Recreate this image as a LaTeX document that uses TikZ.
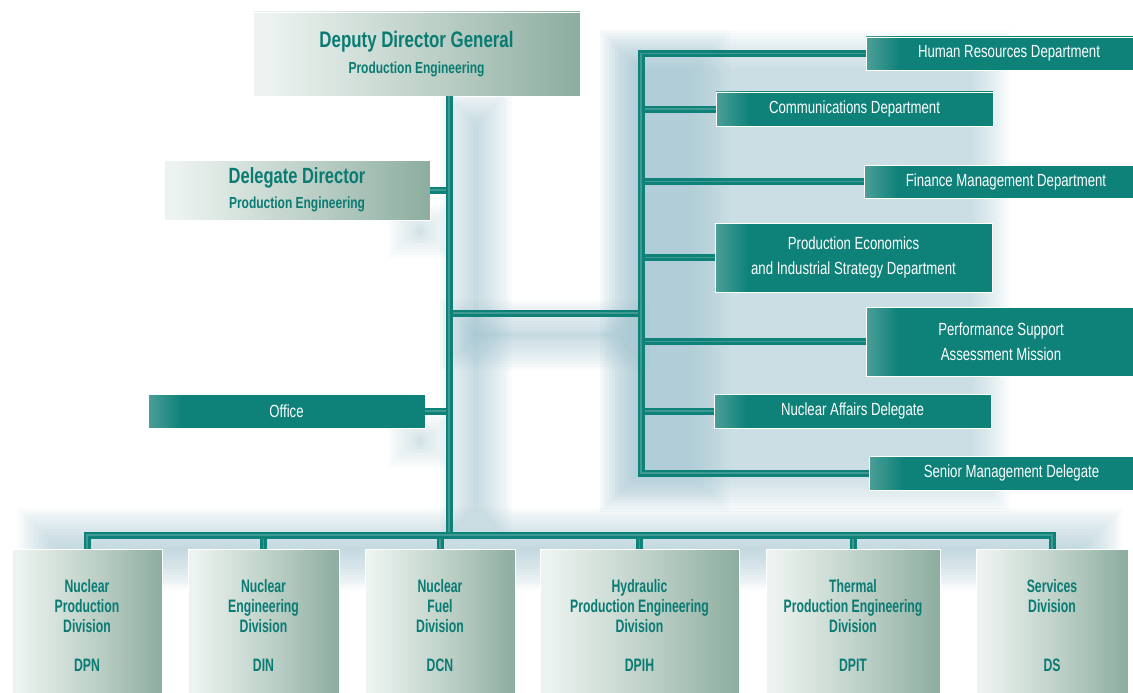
\documentclass[tikz,border=0pt]{standalone}
\usepackage{fontspec}
\usepackage{xcolor}
\usepackage{tikz}
\usetikzlibrary{positioning}
\setmainfont{Liberation Sans}[FakeStretch=0.75]
\newfontfamily\narrowfont{Liberation Sans}[FakeStretch=0.68]
\definecolor{tealdark}{HTML}{0E8179}
\definecolor{teallight}{HTML}{3E9A92}
\definecolor{tealtext}{HTML}{0A7B73}
\definecolor{sagelight}{HTML}{EDF3F0}
\definecolor{sagedark}{HTML}{8CAD9F}
\definecolor{deptleft}{HTML}{4C9F98}
\definecolor{haze}{HTML}{8DB6C4}
\pgfdeclarehorizontalshading{deptshade}{100bp}{color(0bp)=(deptleft); color(25bp)=(deptleft); color(31bp)=(tealdark); color(100bp)=(tealdark)}
\pgfdeclarehorizontalshading{headshade}{100bp}{color(0bp)=(sagelight); color(27bp)=(sagelight); color(55bp)=(sagedark!55!sagelight); color(75bp)=(sagedark); color(100bp)=(sagedark)}

% soft blurred shadow block
\newcommand\hazebox[5]{%
  \foreach \i in {0,...,13}{
    \fill[haze,opacity=#5] (#1+3*\i,#2+3*\i) rectangle (#3-3*\i,#4-3*\i);
  }}

\tikzset{
  headbox/.style={rectangle,inner sep=0pt,shading=headshade,draw=white,line width=0.8pt,
    text=tealtext,align=center},
  deptbox/.style={rectangle,inner sep=0pt,shading=deptshade,draw=white,line width=0.6pt,
    text=white,align=center,font=\fontsize{17.6}{25}\selectfont},
  divbox/.style={headbox,anchor=north,minimum height=144pt},
  divtext/.style={anchor=north,inner sep=0pt,text=tealtext,align=center,
    font=\narrowfont\bfseries\fontsize{18}{20}\selectfont},
  link/.style={draw=tealdark,line width=2.6pt,double=teallight,double distance=1.8pt},
}

\begin{document}
\begin{tikzpicture}[x=1pt,y=-1pt]
  \useasboundingbox (0,0) rectangle (1133,693);
  % shadows
  \hazebox{600}{30}{1010}{512}{0.045}
  \hazebox{600}{30}{730}{512}{0.04}
  \hazebox{440}{88}{512}{542}{0.05}
  \hazebox{440}{300}{650}{370}{0.05}
  \hazebox{388}{204}{452}{258}{0.04}
  \hazebox{388}{414}{452}{468}{0.04}
  \hazebox{18}{508}{1122}{590}{0.05}

  % head boxes
  \node[headbox,minimum width=327pt,minimum height=84pt] (ddg) at (416.5,54)
    {\bfseries\fontsize{22.5}{26}\selectfont Deputy Director General\\[9pt]
     \bfseries\fontsize{16}{18}\selectfont Production Engineering};
  \node[headbox,minimum width=266pt,minimum height=60pt] (dd) at (297,190)
    {\bfseries\fontsize{22}{26}\selectfont Delegate Director\\[8pt]
     \bfseries\fontsize{16}{18}\selectfont Production Engineering};
  \node[deptbox,minimum width=277pt,minimum height=34pt] (office) at (286.5,411) {Office};

  % departments on the right
  \node[deptbox,minimum width=286pt,minimum height=33pt] (hr)   at (1009,53.5) {Human Resources Department};
  \node[deptbox,minimum width=277pt,minimum height=34pt] (comm) at (854.5,109) {Communications Department};
  \node[deptbox,minimum width=284pt,minimum height=33pt] (fin)  at (1006,181.5) {Finance Management Department};
  \node[deptbox,minimum width=277pt,minimum height=69pt] (pes)  at (853.5,257.5) {Production Economics\\and Industrial Strategy Department};
  \node[deptbox,minimum width=270pt,minimum height=69pt] (psam) at (1001,341.5) {Performance Support\\Assessment Mission};
  \node[deptbox,minimum width=277pt,minimum height=34pt] (nad)  at (852.5,411) {Nuclear Affairs Delegate};
  \node[deptbox,minimum width=285pt,minimum height=34pt] (smd)  at (1011.5,473) {Senior Management Delegate};

  % divisions
  \foreach \name/\x/\w/\txt/\code in {
      dpn/87/150/{Nuclear\\Production\\Division}/DPN,
      din/263.5/151/{Nuclear\\Engineering\\Division}/DIN,
      dcn/440/150/{Nuclear\\Fuel\\Division}/DCN,
      dpih/639.5/199/{Hydraulic\\Production Engineering\\Division}/DPIH,
      dpit/853/174/{Thermal\\Production Engineering\\Division}/DPIT,
      ds/1052/152/{Services\\Division}/DS}{
    \node[divbox,minimum width=\w pt] (\name) at (\x,549) {};
    \node[divtext] (\name-t) at ([yshift=-30pt]\name.north) {\txt};
    \node[divtext] (\name-c) at ([yshift=-110pt]\name.north) {\code};
  }

  % connectors
  \coordinate (trunk) at (449,535);
  \coordinate (rail) at (641,313);
  \draw[link] (rail -| trunk) -- (rail);
  \draw[link] (dd.east) -- (dd.east -| trunk);
  \draw[link] (office.east) -- (office.east -| trunk);
  \foreach \n in {comm,fin,pes,psam,nad}{
    \draw[link] (\n.west -| rail) -- (\n.west);
  }
  \draw[link] (hr.west) -- (hr.west -| rail) -- (smd.west -| rail) -- (smd.west);
  \draw[link] (ddg.south -| trunk) -- (trunk);
  \foreach \n in {din,dcn,dpih,dpit}{
    \draw[link] (\n.north |- trunk) -- (\n.north);
  }
  \draw[link] (dpn.north) -- (dpn.north |- trunk) -- (ds.north |- trunk) -- (ds.north);
\end{tikzpicture}
\end{document}
